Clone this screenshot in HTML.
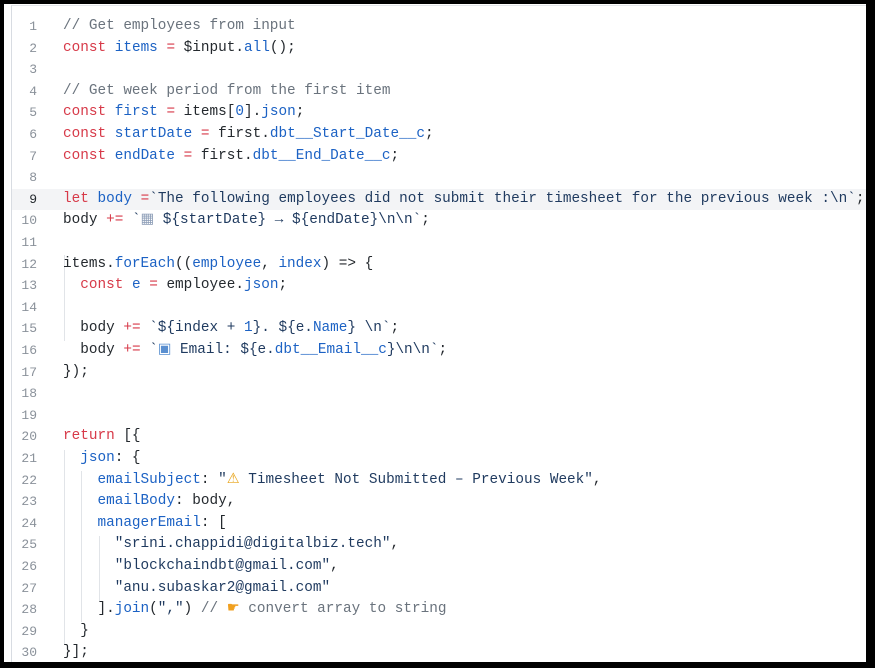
<!DOCTYPE html>
<html><head><meta charset="utf-8"><style>
html,body{margin:0;padding:0;width:875px;height:668px;overflow:hidden;background:#000}
#f{position:absolute;left:4px;top:4px;width:862px;height:658px;background:#fff;overflow:hidden}
#b{position:absolute;left:7px;top:1px;width:860px;height:656px;border-left:1px solid #d8dce2;border-top:1px solid #e3e6ea;border-bottom:1px solid #d8dce2}
#w{position:absolute;left:0;top:3px;width:862px;height:660px}
.l{position:absolute;left:0;width:870px;height:21.6px;font:14.37px/21.6px "Liberation Mono","DejaVu Sans",monospace;white-space:pre;color:#24292e}
.n{position:absolute;left:0;width:33px;text-align:right;color:#8a919a;font-size:13px}
.c{position:absolute;left:59px}
.hl{background:#f3f4f6}
.hl .n{color:#24292e}
.k{color:#d73a49}.v{color:#1c62c4}.m{color:#6a737d}.s{color:#1f3a5f}
.g{position:absolute;width:1px;background:#e1e4e8}
</style></head><body><div id="f"><div id="b"></div><div id="w">
<div class="g" style="left:60px;top:248px;height:86px"></div>
<div class="g" style="left:60px;top:443px;height:194px"></div>
<div class="g" style="left:77px;top:464px;height:151px"></div>
<div class="g" style="left:95px;top:529px;height:65px"></div>
<div class="l" style="top:9px"><span class="n">1</span><span class="c m">// Get employees from input</span></div>
<div class="l" style="top:30.6px"><span class="n">2</span><span class="c"><span class="k">const</span> <span class="v">items</span> <span class="k">=</span> $input.<span class="v">all</span>();</span></div>
<div class="l" style="top:52.2px"><span class="n">3</span></div>
<div class="l" style="top:73.8px"><span class="n">4</span><span class="c m">// Get week period from the first item</span></div>
<div class="l" style="top:95.4px"><span class="n">5</span><span class="c"><span class="k">const</span> <span class="v">first</span> <span class="k">=</span> items[<span class="v">0</span>].<span class="v">json</span>;</span></div>
<div class="l" style="top:117px"><span class="n">6</span><span class="c"><span class="k">const</span> <span class="v">startDate</span> <span class="k">=</span> first.<span class="v">dbt__Start_Date__c</span>;</span></div>
<div class="l" style="top:138.6px"><span class="n">7</span><span class="c"><span class="k">const</span> <span class="v">endDate</span> <span class="k">=</span> first.<span class="v">dbt__End_Date__c</span>;</span></div>
<div class="l" style="top:160.2px"><span class="n">8</span></div>
<div class="l hl" style="top:181.8px;left:8px"><span class="n" style="left:-8px">9</span><span class="c" style="left:51px"><span class="k">let</span> <span class="v">body</span> <span class="k">=</span><span class="s">`The following employees did not submit their timesheet for the previous week :\n`</span>;</span></div>
<div class="l" style="top:203.4px"><span class="n">10</span><span class="c">body <span class="k">+=</span> <span class="s">`<span style="color:#8a9bb5">▦</span> ${startDate} → ${endDate}\n\n`</span>;</span></div>
<div class="l" style="top:225px"><span class="n">11</span></div>
<div class="l" style="top:246.6px"><span class="n">12</span><span class="c">items.<span class="v">forEach</span>((<span class="v">employee</span>, <span class="v">index</span>) =&gt; {</span></div>
<div class="l" style="top:268.2px"><span class="n">13</span><span class="c">  <span class="k">const</span> <span class="v">e</span> <span class="k">=</span> employee.<span class="v">json</span>;</span></div>
<div class="l" style="top:289.8px"><span class="n">14</span></div>
<div class="l" style="top:311.4px"><span class="n">15</span><span class="c">  body <span class="k">+=</span> <span class="s">`${index + <span class="v">1</span>}. ${e.<span class="v">Name</span>} \n`</span>;</span></div>
<div class="l" style="top:333px"><span class="n">16</span><span class="c">  body <span class="k">+=</span> <span class="s">`<span style="color:#5a8fd0">▣</span> Email: ${e.<span class="v">dbt__Email__c</span>}\n\n`</span>;</span></div>
<div class="l" style="top:354.6px"><span class="n">17</span><span class="c">});</span></div>
<div class="l" style="top:376.2px"><span class="n">18</span></div>
<div class="l" style="top:397.8px"><span class="n">19</span></div>
<div class="l" style="top:419.4px"><span class="n">20</span><span class="c"><span class="k">return</span> [{</span></div>
<div class="l" style="top:441px"><span class="n">21</span><span class="c">  <span class="v">json</span>: {</span></div>
<div class="l" style="top:462.6px"><span class="n">22</span><span class="c">    <span class="v">emailSubject</span>: <span class="s">"<span style="color:#e8a317">⚠</span> Timesheet Not Submitted – Previous Week"</span>,</span></div>
<div class="l" style="top:484.2px"><span class="n">23</span><span class="c">    <span class="v">emailBody</span>: body,</span></div>
<div class="l" style="top:505.8px"><span class="n">24</span><span class="c">    <span class="v">managerEmail</span>: [</span></div>
<div class="l" style="top:527.4px"><span class="n">25</span><span class="c">      <span class="s">"srini.chappidi@digitalbiz.tech"</span>,</span></div>
<div class="l" style="top:549px"><span class="n">26</span><span class="c">      <span class="s">"blockchaindbt@gmail.com"</span>,</span></div>
<div class="l" style="top:570.6px"><span class="n">27</span><span class="c">      <span class="s">"anu.subaskar2@gmail.com"</span></span></div>
<div class="l" style="top:592.2px"><span class="n">28</span><span class="c">    ].<span class="v">join</span>(<span class="s">","</span>) <span class="m">// <span style="color:#f0a020">☛</span> convert array to string</span></span></div>
<div class="l" style="top:613.8px"><span class="n">29</span><span class="c">  }</span></div>
<div class="l" style="top:635.4px"><span class="n">30</span><span class="c">}];</span></div>
</div></div></body></html>
